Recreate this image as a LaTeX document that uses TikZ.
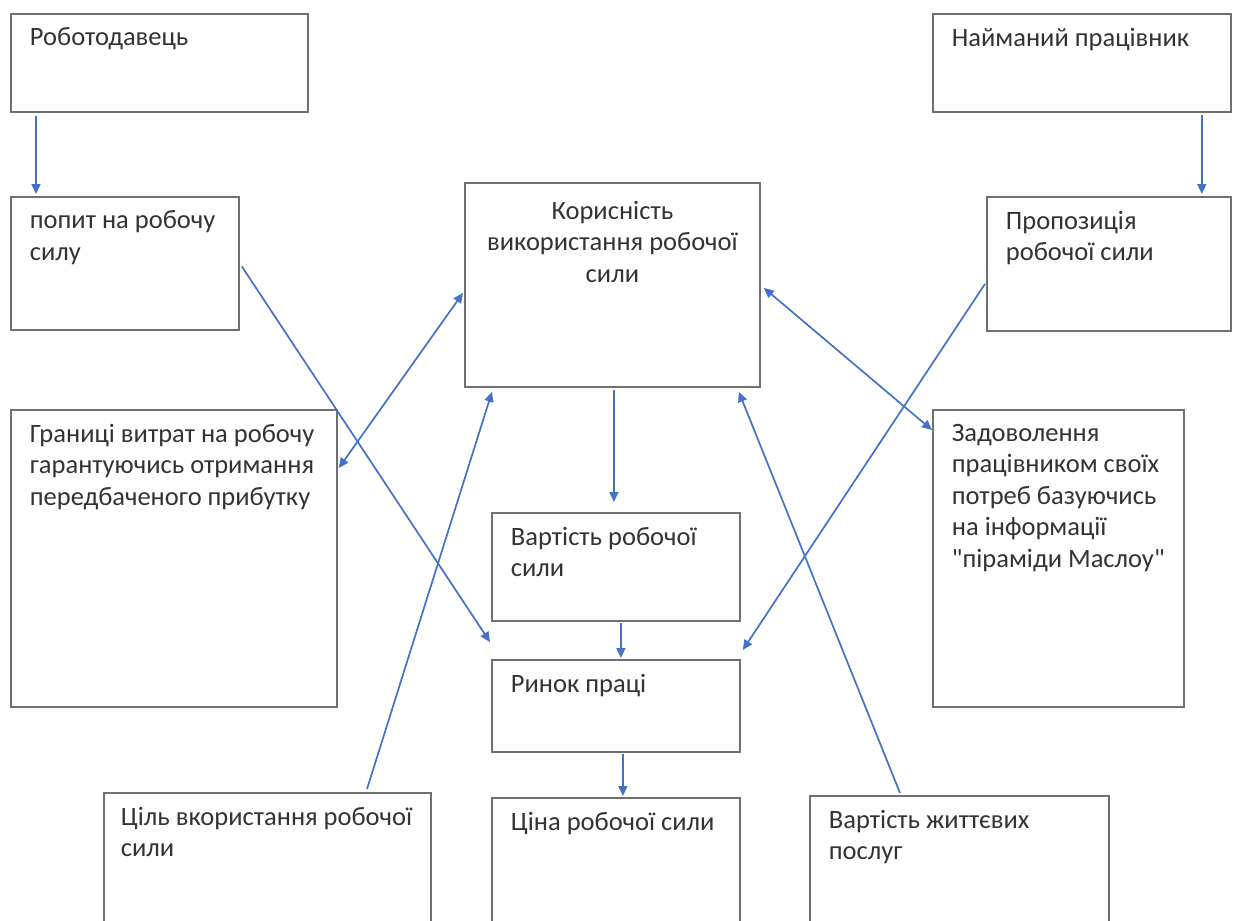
\documentclass[tikz,border=0pt]{standalone}
\usepackage{fontspec}
\setmainfont{Carlito}[Ligatures=TeXOff]
\usetikzlibrary{arrows.meta}
\definecolor{txtgray}{HTML}{333333}
\definecolor{boxgray}{HTML}{707070}
\definecolor{arrblue}{HTML}{4472C4}
\begin{document}
\begin{tikzpicture}[x=1pt,y=-1pt,
  box/.style={draw=boxgray,line width=1.8pt,anchor=north west,inner xsep=19pt,inner ysep=14pt,
    text=txtgray,font=\fontsize{26.5}{31.5}\selectfont},
  arr/.style={draw=arrblue,line width=1.7pt,-{Triangle[length=10pt,width=9pt]}},
  darr/.style={draw=arrblue,line width=1.7pt,{Triangle[length=10pt,width=9pt]}-{Triangle[length=10pt,width=9pt]}}]
\useasboundingbox (0,0) rectangle (1237,921);
\clip (0,0) rectangle (1237,921);
\fill[white] (0,0) rectangle (1237,921);

\node[box] (rob) at (10,13) {\parbox[c][70pt][t]{259pt}{Роботодавець}};
\node[box] (najm) at (932,13) {\parbox[c][70pt][t]{260pt}{Найманий працівник}};
\node[box] (popyt) at (10,196) {\parbox[c][105pt][t]{190pt}{попит на робочу\\силу}};
\node[box] (prop) at (986,196) {\parbox[c][106pt][t]{206pt}{Пропозиція\\робочої сили}};
\node[box,inner ysep=18pt] (kor) at (464,182) {\parbox[c][168pt][t]{257pt}{\centering Корисність\\використання робочої\\сили\par}};
\node[box] (gran) at (10,409) {\parbox[c][269pt][t]{288pt}{Границі витрат на робочу\\гарантуючись отримання\\передбаченого прибутку}};
\node[box] (zad) at (932,409) {\parbox[c][269pt][t]{213pt}{Задоволення\\працівником своїх\\потреб базуючись\\на інформації\\"піраміди Маслоу"}};
\node[box] (vart) at (491,512) {\parbox[c][80pt][t]{210pt}{Вартість робочої\\сили}};
\node[box] (rynok) at (491,659) {\parbox[c][64pt][t]{210pt}{Ринок праці}};
\node[box,inner xsep=17pt] (tsil) at (103,792) {\parbox[c][112pt][t]{293pt}{Ціль вкористання робочої\\сили}};
\node[box] (tsina) at (491,797) {\parbox[c][112pt][t]{210pt}{Ціна робочої сили}};
\node[box] (vzhyt) at (809,795) {\parbox[c][112pt][t]{261pt}{Вартість життєвих\\послуг}};

\draw[arr] ([xshift=26pt,yshift=-3pt]rob.south west) -- ([xshift=26pt,yshift=2pt]popyt.north west);
\draw[arr] ([xshift=-30pt,yshift=-2pt]najm.south east) -- ([xshift=-30pt,yshift=2pt]prop.north east);
\draw[arr] ([xshift=2pt,yshift=-3pt]popyt.east) -- ([xshift=-1pt,yshift=17pt]rynok.north west);
\draw[arr] ([xshift=-1pt,yshift=-20pt]prop.west) -- ([xshift=2pt,yshift=9pt]rynok.north east);
\draw[darr] ([xshift=1pt,yshift=-59pt]gran.north east) -- ([xshift=-1pt,yshift=-8pt]kor.west);
\draw[darr] ([xshift=3pt,yshift=-3pt]kor.east) -- ([yshift=-21pt]zad.north west);
\draw[arr] ([xshift=1.5pt,yshift=-2pt]kor.south) -- ([xshift=-2pt,yshift=10pt]vart.north);
\draw[arr] ([xshift=5pt,yshift=-1pt]vart.south) -- ([xshift=5pt,yshift=1pt]rynok.north);
\draw[arr] ([xshift=7pt,yshift=-1pt]rynok.south) -- ([xshift=7pt,yshift=1pt]tsina.north);
\draw[arr] ([xshift=264pt,yshift=3pt]tsil.north west) -- ([xshift=28pt,yshift=-4pt]kor.south west);
\draw[arr] ([xshift=91pt,yshift=2pt]vzhyt.north west) -- ([xshift=-22pt,yshift=-4pt]kor.south east);
\end{tikzpicture}
\end{document}
